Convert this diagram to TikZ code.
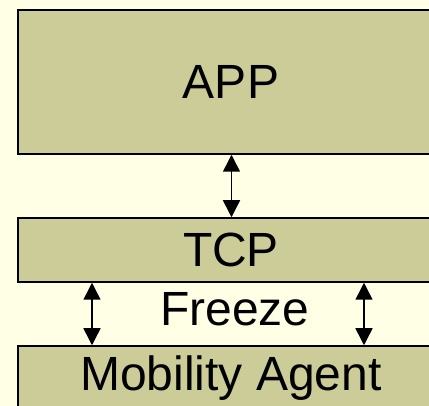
\documentclass[tikz,border=0pt]{standalone}
\usepackage{fontspec}
\setmainfont{Liberation Sans}
\usetikzlibrary{arrows.meta}
\definecolor{bgc}{HTML}{FFFFE5}
\definecolor{boxc}{HTML}{CCCC99}
\begin{document}
\begin{tikzpicture}[x=1pt,y=1pt,
  layer/.style={draw=black,line width=1.5pt,fill=boxc,minimum width=426pt,inner sep=0pt,
    font=\fontsize{48}{48}\selectfont,text=black},
  link/.style={line width=1.5pt,{Triangle[width=17pt,length=17pt]}-{Triangle[width=17pt,length=17pt]}}]
\useasboundingbox (0,0) rectangle (429,-406);
\clip (0,0) rectangle (429,-406);
\fill[bgc] (0,0) rectangle (429,-406);
\node[layer,minimum height=144pt] (app) at (231,-82) {APP};
\node[layer,minimum height=64pt] (tcp) at (231,-250) {TCP};
\node[layer,minimum height=64pt] (ma) at (231,-378) {Mobility Agent};
\node[font=\fontsize{48}{48}\selectfont,anchor=base,inner sep=0pt] (fr) at (235,-326) {Freeze};
\draw[link] (app.south -| 231.5,0) -- (tcp.north -| 231.5,0);
\draw[link] (tcp.south -| 92,0) -- (ma.north -| 92,0);
\draw[link] (tcp.south -| 364,0) -- (ma.north -| 364,0);
\end{tikzpicture}
\end{document}
